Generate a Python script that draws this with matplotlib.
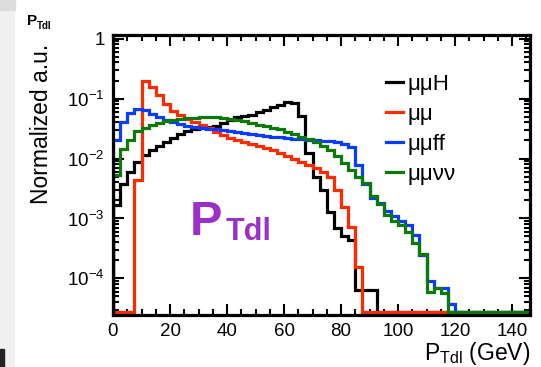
import numpy as np
import matplotlib
matplotlib.use('Agg')
import matplotlib.pyplot as plt
from matplotlib.lines import Line2D
from matplotlib.patches import Rectangle
from matplotlib.ticker import LogLocator, FuncFormatter, MultipleLocator, NullFormatter

plt.rcParams['font.family'] = ['Liberation Sans', 'DejaVu Sans']
plt.rcParams['mathtext.fontset'] = 'custom'
plt.rcParams['mathtext.rm'] = 'Liberation Sans'
plt.rcParams['mathtext.it'] = 'Liberation Sans:italic'
plt.rcParams['mathtext.bf'] = 'Liberation Sans:bold'

# binning: 2.5 GeV bins
edges = np.arange(0, 150.0, 2.5)

# normalized P_Tdl distributions, one value per bin (empty bins are 0)
mumuH = [1.67e-3, 3.73e-3, 5.91e-3, 8.68e-3, 1.135e-2, 1.375e-2, 1.60e-2, 1.87e-2,
         2.18e-2, 2.54e-2, 2.85e-2, 3.08e-2, 3.20e-2, 3.32e-2, 3.45e-2, 3.88e-2,
         4.35e-2, 4.88e-2, 5.07e-2, 5.27e-2, 5.91e-2, 6.38e-2, 7.16e-2, 7.73e-2,
         8.67e-2, 8.35e-2, 5.07e-2, 1.225e-2, 4.88e-3, 2.96e-3, 1.27e-3, 6.89e-4,
         5.07e-4, 4.35e-4, 6.38e-5, 6.38e-5, 6.38e-5]
mumu = [0, 0, 0, 4.35e-3, 0.198, 0.154, 0.1135, 8.04e-2,
        6.14e-2, 5.27e-2, 4.52e-2, 4.03e-2, 3.59e-2, 3.20e-2, 2.74e-2, 2.45e-2,
        2.18e-2, 2.02e-2, 1.87e-2, 1.73e-2, 1.60e-2, 1.49e-2, 1.375e-2, 1.225e-2,
        1.09e-2, 9.73e-3, 8.68e-3, 7.73e-3, 6.89e-3, 5.91e-3, 4.88e-3, 2.96e-3,
        1.54e-3, 7.16e-4, 1.54e-4]
mumuff = [2.02e-2, 4.03e-2, 5.69e-2, 6.63e-2, 6.38e-2, 5.47e-2, 4.88e-2, 4.35e-2,
          4.03e-2, 3.73e-2, 3.52e-2, 3.39e-2, 3.20e-2, 3.14e-2, 3.08e-2, 2.96e-2,
          2.85e-2, 2.74e-2, 2.64e-2, 2.54e-2, 2.45e-2, 2.40e-2, 2.31e-2, 2.26e-2,
          2.18e-2, 2.14e-2, 2.10e-2, 2.06e-2, 2.02e-2, 1.98e-2, 1.94e-2, 1.87e-2,
          1.77e-2, 1.54e-2, 7.73e-3, 3.73e-3, 2.18e-3, 1.80e-3, 1.32e-3, 1.09e-3,
          9.02e-4, 7.73e-4, 5.27e-4, 2.45e-4, 9.02e-5, 6.89e-5, 6.89e-5, 3.73e-5]
mumununu = [5.27e-3, 1.43e-2, 2.02e-2, 2.85e-2, 3.20e-2, 3.59e-2, 3.88e-2, 4.19e-2,
            4.43e-2, 4.61e-2, 4.69e-2, 4.79e-2, 4.88e-2, 4.94e-2, 4.88e-2, 4.79e-2,
            4.61e-2, 4.35e-2, 4.19e-2, 3.92e-2, 3.66e-2, 3.45e-2, 3.26e-2, 3.08e-2,
            2.80e-2, 2.54e-2, 2.26e-2, 2.10e-2, 1.87e-2, 1.60e-2, 1.375e-2, 1.09e-2,
            8.35e-3, 6.38e-3, 4.88e-3, 3.88e-3, 2.35e-3, 1.73e-3, 1.135e-3, 9.02e-4,
            7.73e-4, 5.91e-4, 3.88e-4, 2.54e-4, 5.91e-5, 6.89e-5, 5.69e-5]

labels = ['\u03bc\u03bcH', '\u03bc\u03bc', '\u03bc\u03bcff', '\u03bc\u03bc\u03bd\u03bd']
colors = ['#000000', '#ff2a00', '#0a3cff', '#0b7a0b']

ymin, ymax = 2.45e-5, 1.15
floor = ymin * 1.12   # empty bins sit on the frame bottom, ROOT style

fig = plt.figure(figsize=(5.41, 3.67), dpi=100)

# light strip on the left margin
fig.patches.append(Rectangle((0, 0), 14 / 541, 1, transform=fig.transFigure,
                             color='#f0f0f0', zorder=0))
fig.patches.append(Rectangle((0, 1 - 10 / 367), 15 / 541, 10 / 367,
                             transform=fig.transFigure, color='#dcdcdc', zorder=0))
fig.patches.append(Rectangle((0, 0), 4 / 541, 18 / 367, transform=fig.transFigure,
                             color='#222222', zorder=0))

ax = fig.add_axes([113 / 541, 52 / 367, 417 / 541, 280 / 367])

nbins = len(edges) - 1
for i, (vals, col) in enumerate(zip([mumuH, mumu, mumuff, mumununu], colors)):
    v = np.zeros(nbins)
    v[:len(vals)] = vals
    v = np.where(v > 0, v, floor)
    ax.stairs(v, edges, baseline=floor, color=col, lw=2.3, zorder=2 + i)

ax.set_yscale('log')
ax.set_xlim(0, 146.3)
ax.set_ylim(ymin, ymax)

ax.xaxis.set_major_locator(MultipleLocator(20))
ax.xaxis.set_minor_locator(MultipleLocator(5))
ax.yaxis.set_major_locator(LogLocator(base=10, numticks=10))
ax.yaxis.set_minor_locator(LogLocator(base=10, subs=np.arange(2, 10), numticks=20))
ax.yaxis.set_minor_formatter(NullFormatter())

def decade(v, pos):
    e = int(round(np.log10(v)))
    if e == 0:
        return '1'
    return r'$\mathregular{10^{%d}}$' % e

ax.yaxis.set_major_formatter(FuncFormatter(decade))

ax.tick_params(which='both', direction='in', top=True, right=True, width=1.5,
               labelsize=13.5, pad=6)
ax.tick_params(which='major', length=8)
ax.tick_params(which='minor', length=4)
for s in ax.spines.values():
    s.set_linewidth(2.3)
    s.set_zorder(10)

ax.set_ylabel('Normalized a.u.', fontsize=16.5, loc='top')
ax.yaxis.set_label_coords(-0.145, 0.97)
ax.set_xlabel(r'P$_{\mathregular{Tdl}}$ (GeV)', fontsize=16.5, loc='right')
ax.xaxis.set_label_coords(1.0, -0.09)

handles = [Line2D([], [], color=c, lw=2.3) for c in colors]
ax.legend(handles, labels, loc='upper left', bbox_to_anchor=(0.655, 0.86),
          frameon=False, fontsize=16, handlelength=0.75, handletextpad=0.2,
          labelspacing=0.4, borderpad=0, borderaxespad=0)

# big label inside the frame
ax.text(0.185, 0.286, 'P', transform=ax.transAxes, fontsize=35, fontweight='bold',
        color='#9b30c8', ha='left', va='baseline')
ax.text(0.270, 0.268, 'Tdl', transform=ax.transAxes, fontsize=22, fontweight='bold',
        color='#9b30c8', ha='left', va='baseline')

# small title in the corner
fig.text(27 / 541, 1 - 25 / 367, 'P', fontsize=11, fontweight='bold', va='baseline')
fig.text(37 / 541, 1 - 29 / 367, 'Tdl', fontsize=7, fontweight='bold', va='baseline')

fig.savefig('out.png', dpi=100)
